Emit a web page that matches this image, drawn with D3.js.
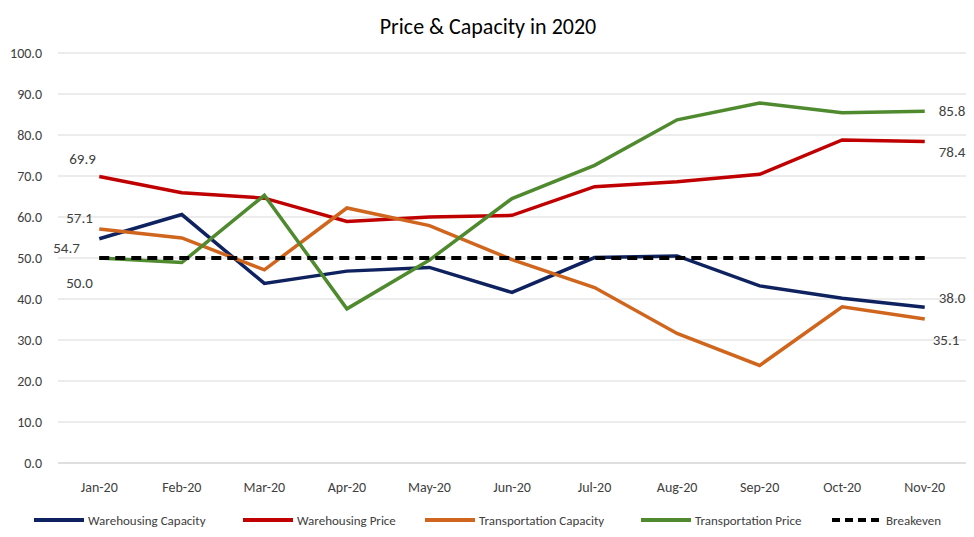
<!DOCTYPE html>
<html><head><meta charset="utf-8">
<script src="https://cdn.jsdelivr.net/npm/d3@7"></script>
<style>body{margin:0;background:#fff;font-family:Calibri,Carlito,"Liberation Sans",Arial,sans-serif}</style>
</head><body><svg id="c" width="974" height="537"></svg>
<script>
var months = ["Jan-20","Feb-20","Mar-20","Apr-20","May-20","Jun-20","Jul-20","Aug-20","Sep-20","Oct-20","Nov-20"];
var whCapacity = [54.7,60.6,43.8,46.8,47.7,41.6,50.1,50.5,43.2,40.2,38.0];
var whPrice = [69.9,65.9,64.6,58.9,60.0,60.4,67.4,68.6,70.4,78.8,78.4];
var trCapacity = [57.1,54.9,47.1,62.2,57.9,49.6,42.8,31.6,23.8,38.1,35.1];
var trPrice = [50.0,48.9,65.3,37.6,49.5,64.5,72.6,83.7,87.8,85.4,85.8];
var breakeven = [50,50,50,50,50,50,50,50,50,50,50];
var yTicks = [0,10,20,30,40,50,60,70,80,90,100];

var series = [
  {name:"Warehousing Capacity", values:whCapacity, color:"#0f2260"},
  {name:"Warehousing Price", values:whPrice, color:"#c00000"},
  {name:"Transportation Capacity", values:trCapacity, color:"#d0661e"},
  {name:"Transportation Price", values:trPrice, color:"#4f8a2e"},
  {name:"Breakeven", values:breakeven, color:"#000", dash:"10,6"}
];

var svg = d3.select("#c");
var x = d3.scaleBand().domain(months).range([58,966]);
var y = d3.scaleLinear().domain([0,100]).range([463,53]);
var cx = function(i){ return x(months[i]) + x.bandwidth()/2; };

svg.append("text").attr("x",488).attr("y",34).attr("text-anchor","middle")
  .attr("font-size",22).text("Price & Capacity in 2020");

//gridlines
svg.append("g").selectAll("line").data(yTicks.slice(1)).enter().append("line")
  .attr("x1",58).attr("x2",966).attr("y1",y).attr("y2",y)
  .attr("stroke","#d9d9d9");
svg.append("line").attr("x1",58).attr("x2",966).attr("y1",y(0)).attr("y2",y(0)).attr("stroke","#bfbfbf");

svg.append("g").selectAll("text").data(yTicks).enter().append("text")
  .attr("x",42).attr("y",function(d){return y(d)+5;}).attr("text-anchor","end")
  .attr("font-size",14).attr("fill","#404040").text(function(d){return d.toFixed(1);});
svg.append("g").selectAll("text").data(months).enter().append("text")
  .attr("x",function(d,i){return cx(i);}).attr("y",492).attr("text-anchor","middle")
  .attr("font-size",14).attr("fill","#404040").text(function(d){return d;});

var line = d3.line().x(function(d,i){return cx(i);}).y(function(d){return y(d);});
series.forEach(function(s){
  svg.append("path").attr("d",line(s.values)).attr("fill","none")
    .attr("stroke",s.color).attr("stroke-width",s.dash?4:3.5)
    .attr("stroke-dasharray",s.dash||null);
});

//data labels
var labels = [
  {v:whPrice[0], i:0, dx:-30, dy:-12},
  {v:trCapacity[0], i:0, dx:-33, dy:-6},
  {v:whCapacity[0], i:0, dx:-46, dy:14},
  {v:trPrice[0], i:0, dx:-33, dy:30},
  {v:trPrice[10], i:10, dx:14, dy:5},
  {v:whPrice[10], i:10, dx:14, dy:15},
  {v:whCapacity[10], i:10, dx:14, dy:-4},
  {v:trCapacity[10], i:10, dx:8, dy:26}
];
svg.append("g").selectAll("text").data(labels).enter().append("text")
  .attr("x",function(d){return cx(d.i)+d.dx;}).attr("y",function(d){return y(d.v)+d.dy;})
  .attr("font-size",15).attr("fill","#404040").text(function(d){return d.v.toFixed(1);});

//legend
var legendX = [34,243,425,641,832];
var lg = svg.append("g").selectAll("g").data(series).enter().append("g")
  .attr("transform",function(d,i){return "translate("+[legendX[i],520]+")";});
lg.append("line").attr("x1",0).attr("x2",50).attr("stroke",function(d){return d.color;})
  .attr("stroke-width",4).attr("stroke-dasharray",function(d){return d.dash?"8,5":null;});
lg.append("text").attr("x",54).attr("y",5).attr("font-size",13).attr("fill","#404040")
  .text(function(d){return d.name;});
</script></body></html>
